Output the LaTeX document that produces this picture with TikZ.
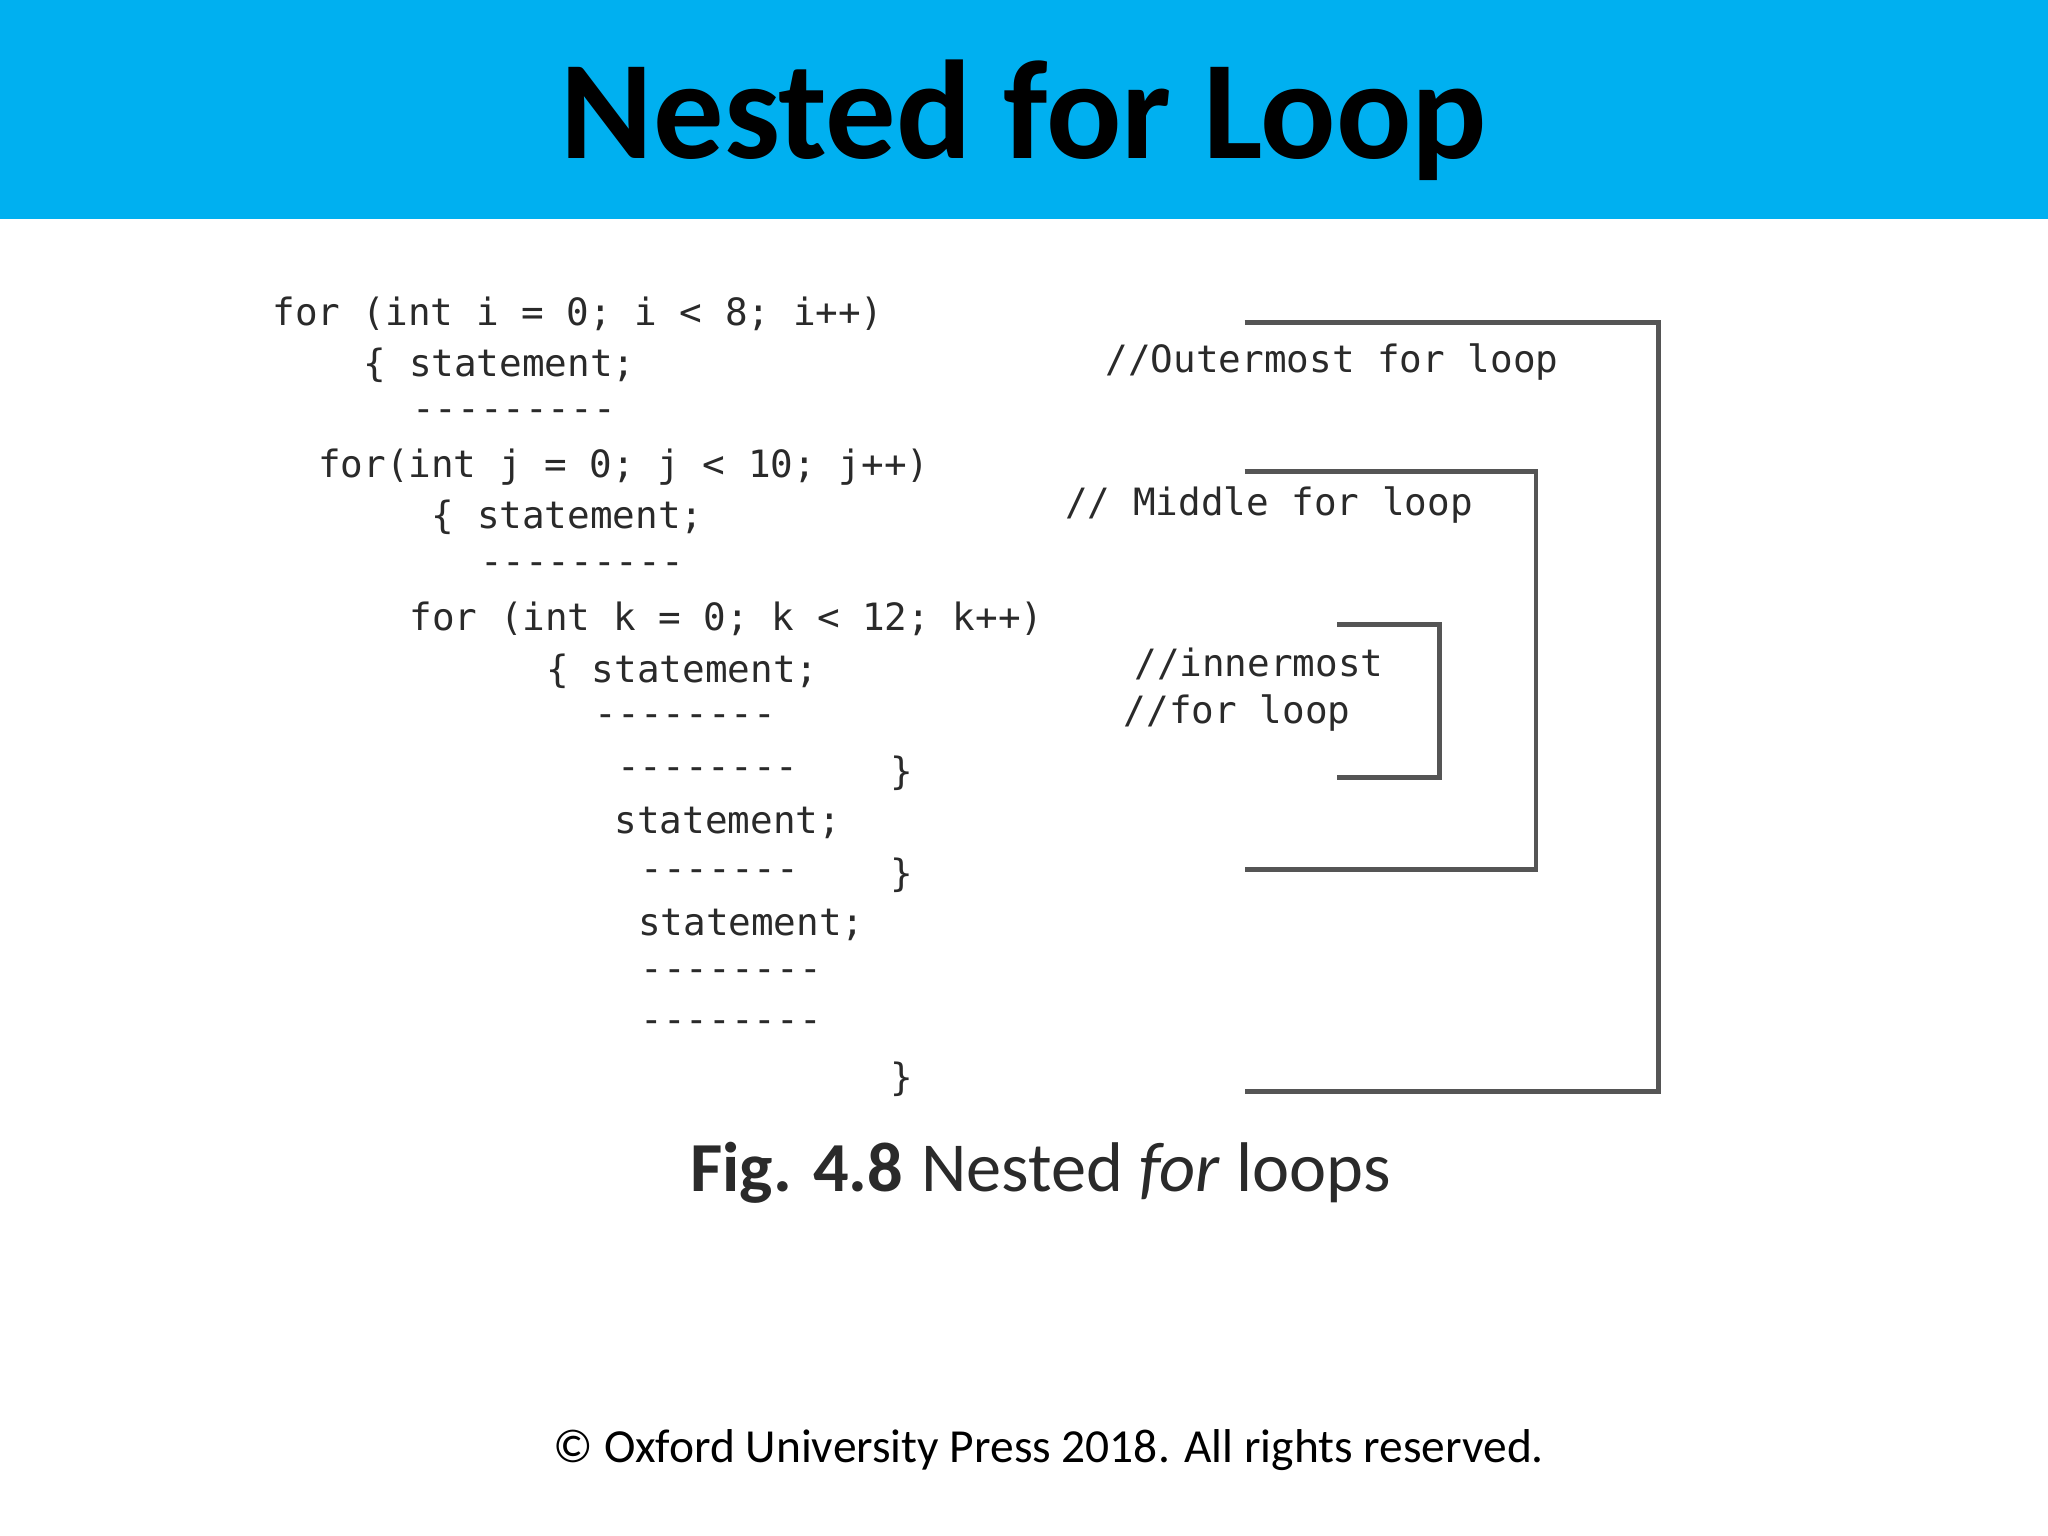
\documentclass[tikz,border=0pt]{standalone}
\usepackage{fontspec}
\setmainfont{Carlito}
\newfontfamily\codefont{DejaVu Sans Mono}
\definecolor{banner}{HTML}{00B0F0}
\definecolor{codec}{HTML}{2A2A2A}
\definecolor{brk}{HTML}{555555}
\begin{document}
\begin{tikzpicture}[x=0.013061cm,y=-0.013061cm,
  code/.style={anchor=west,inner sep=0pt,text=codec,font=\codefont\fontsize{10.7}{12}\selectfont},
  brace/.style={draw=brk,line width=1.4pt}]
\useasboundingbox (0,0) rectangle (1568,1176);
\fill[banner] (0,0) rectangle (1568,168);
\node[font=\fontsize{40}{44}\selectfont\bfseries] (title) at (784,92) {Nested for Loop};
\node[code] (c1) at (208,240) {for (int i = 0; i < 8; i++)};
\node[code] (c2) at (278,280) {\{ statement;};
\node[code] (c3) at (315,318) {---------};
\node[code] (c4) at (243,358) {for(int j = 0; j < 10; j++)};
\node[code] (c5) at (330,396) {\{ statement;};
\node[code] (c6) at (367,435) {---------};
\node[code] (c7) at (313,474) {for (int k = 0; k < 12; k++)};
\node[code] (c8) at (418,514) {\{ statement;};
\node[code] (c9) at (455,552) {--------};
\node[code] (c10) at (472,592) {--------};
\node[code] (b1) at (681,592) {\}};
\node[code] (c11) at (470,630) {statement;};
\node[code] (c12) at (490,670) {-------};
\node[code] (b2) at (681,670) {\}};
\node[code] (c13) at (488,708) {statement;};
\node[code] (c14) at (490,747) {--------};
\node[code] (c15) at (490,786) {--------};
\node[code] (b3) at (681,826) {\}};
\node[code] (m1) at (846,277) {//Outermost for loop};
\node[code] (m2) at (815,387) {// Middle for loop};
\node[code] (m3) at (868,508) {//innermost};
\node[code] (m4) at (860,546) {//for loop};
\draw[brace] (953,247) -- (1270,247) -- (1270,836) -- (953,836);
\draw[brace] (953,361) -- (1176,361) -- (1176,666) -- (953,666);
\draw[brace] (1024,478) -- (1102,478) -- (1102,595) -- (1024,595);
\node[anchor=west,inner sep=0pt,font=\fontsize{20}{24}\selectfont\bfseries,text=codec] (fig) at (528,898) {Fig. 4.8};
\node[anchor=west,inner sep=0pt,font=\fontsize{20}{24}\selectfont,text=codec] (cap) at (705,898) {Nested \textit{for} loops};
\node[font=\fontsize{13.5}{16}\selectfont] (foot) at (803,1110) {© Oxford University Press 2018. All rights reserved.};
\end{tikzpicture}
\end{document}
